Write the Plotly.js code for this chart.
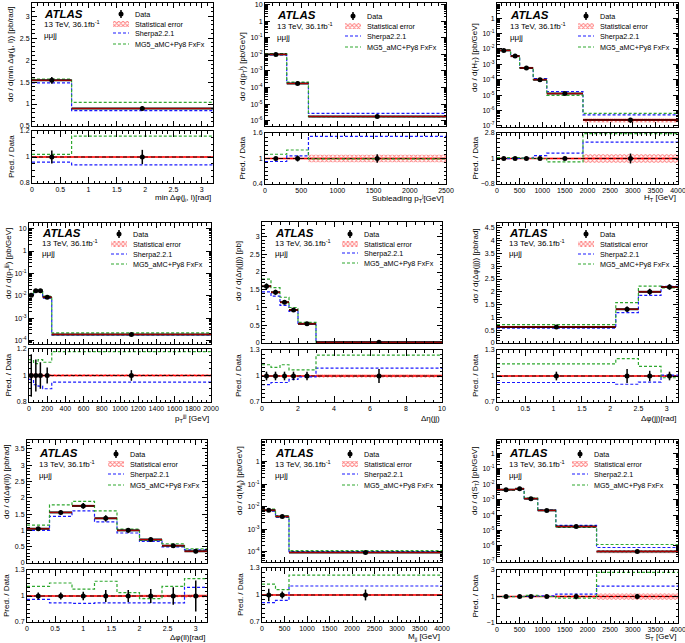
<!DOCTYPE html>
<html><head><meta charset="utf-8">
<script src="https://cdn.plot.ly/plotly-3.0.1.min.js"></script>
<style>html,body{margin:0;padding:0;background:#fff}</style>
</head><body><div id="chart" style="width:685px;height:643px"></div>
<script>
// ---------- DATA ----------
const p1_edges=[0,0.7,3.2];
const p1_data=[1.54,0.90];
const p1_err=[0.05,0.055];
const p1_stat=[0.006,0.006];
const p1_sherpa=[1.48,0.85];
const p1_mg5=[1.57,1.04];
const p1_rsherpa=[0.96,0.94];
const p1_rmg5=[1.02,1.16];

const p2_edges=[0,300,600,2500];
const p2_data=[1.0e-2,1.75e-4,1.8e-6];
const p2_err=[0.03,0.07,0.1];
const p2_stat=[0.01,0.02,0.09];
const p2_sherpa=[9.3e-3,1.85e-4,2.75e-6];
const p2_mg5=[1.1e-2,2.1e-4,1.78e-6];
const p2_rsherpa=[0.93,1.06,1.52];
const p2_rmg5=[1.1,1.2,0.99];

const p3_edges=[0,300,500,800,1100,1900,4000];
const p3_data=[8.0e-3,3.4e-3,5.8e-4,1.0e-4,1.25e-5,2.4e-7];
const p3_err=[0.02,0.02,0.03,0.04,0.06,0.35];
const p3_stat=[0.01,0.01,0.015,0.02,0.05,0.3];
const p3_sherpa=[7.9e-3,3.4e-3,5.9e-4,1.2e-4,1.72e-5,5.2e-7];
const p3_mg5=[8.5e-3,3.65e-3,6.0e-4,1.0e-4,9.5e-6,6.6e-7];
const p3_rsherpa=[0.99,1.0,1.02,1.2,1.38,2.15];
const p3_rmg5=[1.06,1.07,1.03,1.0,0.76,2.75];

const p4_edges=[0,50,100,150,250,2000];
const p4_data=[1.07e-2,1.7e-2,1.7e-2,8.7e-3,1.9e-4];
const p4_err=[0.16,0.12,0.1,0.06,0.04];
const p4_stat=[0.02,0.015,0.015,0.01,0.01];
const p4_sherpa=[1.04e-2,1.58e-2,1.56e-2,7.8e-3,1.8e-4];
const p4_mg5=[1.18e-2,1.84e-2,1.9e-2,9.6e-3,2.24e-4];
const p4_rsherpa=[0.97,0.93,0.92,0.90,0.95];
const p4_rmg5=[1.12,1.09,1.12,1.10,1.18];

const p5_edges=[0,0.5,1,1.5,2,3,10];
const p5_data=[1.6,1.43,1.15,0.93,0.54,0.02];
const p5_err=[0.05,0.05,0.05,0.05,0.05,0.08];
const p5_stat=[0.008,0.008,0.008,0.008,0.01,0.02];
const p5_sherpa=[1.44,1.32,1.06,0.89,0.535,0.022];
const p5_mg5=[1.8,1.56,1.29,1.0,0.58,0.025];
const p5_rsherpa=[0.90,0.925,0.925,0.96,0.99,1.09];
const p5_rmg5=[1.13,1.10,1.13,1.07,1.07,1.24];

const p6_edges=[0,2.1,2.5,2.9,3.2];
const p6_data=[0.63,1.32,2.0,2.19];
const p6_err=[0.05,0.08,0.06,0.05];
const p6_stat=[0.008,0.01,0.01,0.01];
const p6_sherpa=[0.58,1.19,1.86,2.21];
const p6_mg5=[0.72,1.58,2.22,2.15];
const p6_rsherpa=[0.925,0.905,0.93,1.01];
const p6_rmg5=[1.14,1.2,1.11,0.98];

const p7_edges=[0,0.4,0.8,1.2,1.6,2.0,2.4,2.8,3.2];
const p7_data=[1.05,1.55,1.75,1.37,1.0,0.72,0.53,0.36];
const p7_err=[0.04,0.04,0.05,0.07,0.07,0.08,0.1,0.18];
const p7_stat=[0.01,0.01,0.01,0.01,0.01,0.015,0.015,0.02];
const p7_sherpa=[1.0,1.43,1.6,1.26,0.92,0.66,0.49,0.4];
const p7_mg5=[1.16,1.78,1.89,1.6,1.04,0.7,0.59,0.43];
const p7_rsherpa=[0.96,0.92,0.915,0.92,0.92,0.92,0.92,1.10];
const p7_rmg5=[1.11,1.15,1.08,1.17,1.04,0.97,1.11,1.2];

const p8_edges=[0,300,600,4000];
const p8_data=[7.0e-3,3.7e-3,9.3e-5];
const p8_err=[0.07,0.04,0.06];
const p8_stat=[0.01,0.01,0.01];
const p8_sherpa=[6.4e-3,3.5e-3,1.02e-4];
const p8_mg5=[7.8e-3,3.9e-3,1.13e-4];
const p8_rsherpa=[0.915,0.94,1.1];
const p8_rmg5=[1.12,1.06,1.22];

const p9_edges=[0,400,600,900,1300,2200,4000];
const p9_data=[4.4e-3,5.0e-3,1.15e-3,2.0e-4,1.8e-5,4.4e-7];
const p9_err=[0.03,0.03,0.04,0.05,0.2,0.2];
const p9_stat=[0.01,0.01,0.01,0.02,0.08,0.25];
const p9_sherpa=[4.4e-3,5.0e-3,1.17e-3,2.1e-4,2.12e-5,7.9e-7];
const p9_mg5=[4.3e-3,4.9e-3,1.24e-3,2.0e-4,1.57e-5,1.24e-6];
const p9_rsherpa=[1.0,1.0,1.02,1.05,1.18,1.79];
const p9_rmg5=[0.98,0.98,1.08,1.0,0.87,2.82];

const yTitles=['dσ / d(min Δφ(j<sub>i</sub>, l)) [pb/rad]','dσ / d(p<sub>T</sub><sup>j</sup>) [pb/GeV]','dσ / d(H<sub>T</sub>) [pb/GeV]',
 'dσ / d(p<sub>T</sub><sup>jjj</sup>) [pb/GeV]','dσ / d(Δη(jj)) [pb]','dσ / d(Δφ(jj)) [pb/rad]',
 'dσ / d(Δφ(ll)) [pb/rad]','dσ / d(M<sub>jj</sub>) [pb/GeV]','dσ / d(S<sub>T</sub>) [pb/GeV]'];
const xTitles=['min Δφ(j<sub>i</sub>, l)[rad]','Subleading p<sub>T</sub><sup>j</sup>[GeV]','H<sub>T</sub> [GeV]',
 'p<sub>T</sub><sup>jjj</sup> [GeV]','Δη(jj)','Δφ(jj)[rad]','Δφ(ll)[rad]','M<sub>jj</sub> [GeV]','S<sub>T</sub> [GeV]'];
const legendLabels=['Data','Statistical error','Sherpa2.2.1','MG5_aMC+Py8 FxFx'];
const ratioTitle='Pred. / Data';
const atlasLines=['<b><i>ATLAS</i></b>','13 TeV, 36.1fb<sup>-1</sup>','μμjj'];

// ---------- LAYOUT CONFIG ----------
const W=685,H=643;
const FONT='Liberation Sans, Arial, Helvetica, sans-serif';
const BLUE='#1a1aff', GREEN='#2fa82f';
const cfgs=[
 {e:p1_edges,d:p1_data,de:p1_err,st:p1_stat,sh:p1_sherpa,mg:p1_mg5,rsh:p1_rsherpa,rmg:p1_rmg5,
  L:32,R:213,T:3,B:126,rT:131,rB:183,log:false,yr:[0.5,3.3],ydt:0.5,y0:0.5,ym:0.1,xr:[0,3.2],xdt:0.5,xm:0.1,rr:[0.8,1.2],rdt:0.2,rm:0.05,
  ytx:11,ytc:55,xty:198,ax:42,ay:[14,24,35],lx:133,ly:[14,24,33,44]},
 {e:p2_edges,d:p2_data,de:p2_err,st:p2_stat,sh:p2_sherpa,mg:p2_mg5,rsh:p2_rsherpa,rmg:p2_rmg5,
  L:265,R:446,T:3,B:126,rT:133,rB:184,log:true,yr:[-6.32,1.1],xr:[0,2500],xdt:500,xm:100,rr:[0.4,1.6],rdt:0.6,rm:0.1,
  ytx:242,ytc:67,xty:198,ax:275,ay:[15,26,37],lx:365,ly:[16,26,36,47]},
 {e:p3_edges,d:p3_data,de:p3_err,st:p3_stat,sh:p3_sherpa,mg:p3_mg5,rsh:p3_rsherpa,rmg:p3_rmg5,
  L:497,R:678,T:3,B:127,rT:133,rB:184,log:true,yr:[-7.07,0.98],xr:[0,4000],xdt:500,xm:100,rr:[-0.8,2.8],rdt:1.8,rm:0.3,
  ytx:475,ytc:58,xty:198,ax:508,ay:[15,26,37],lx:598,ly:[16,26,36,47]},
 {e:p4_edges,d:p4_data,de:p4_err,st:p4_stat,sh:p4_sherpa,mg:p4_mg5,rsh:p4_rsherpa,rmg:p4_rmg5,
  L:29,R:211,T:223,B:344,rT:349,rB:402,log:true,yr:[-4.15,1.25],xr:[0,2000],xdt:200,xm:50,rr:[0.8,1.2],rdt:0.2,rm:0.05,
  ytx:8,ytc:264,xty:418,ax:40,ay:[233,243,253],lx:131,ly:[234,244,254,264]},
 {e:p5_edges,d:p5_data,de:p5_err,st:p5_stat,sh:p5_sherpa,mg:p5_mg5,rsh:p5_rsherpa,rmg:p5_rmg5,
  L:262,R:442,T:222,B:343,rT:350,rB:402,log:false,yr:[0,3.41],ydt:0.5,y0:0,ym:0.1,xr:[0,10],xdt:2,xm:0.5,rr:[0.7,1.3],rdt:0.3,rm:0.05,
  ytx:238,ytc:271,xty:418,ax:273,ay:[233,243,253],lx:362,ly:[234,244,253,263]},
 {e:p6_edges,d:p6_data,de:p6_err,st:p6_stat,sh:p6_sherpa,mg:p6_mg5,rsh:p6_rsherpa,rmg:p6_rmg5,
  L:497,R:678,T:223,B:343,rT:350,rB:402,log:false,yr:[0,4.69],ydt:0.5,y0:0,ym:0.1,xr:[0,3.2],xdt:0.5,xm:0.1,rr:[0.7,1.3],rdt:0.3,rm:0.05,
  ytx:475,ytc:266,xty:418,ax:507,ay:[233,243,253],lx:598,ly:[234,244,254,264]},
 {e:p7_edges,d:p7_data,de:p7_err,st:p7_stat,sh:p7_sherpa,mg:p7_mg5,rsh:p7_rsherpa,rmg:p7_rmg5,
  L:27,R:207,T:440,B:563,rT:570,rB:622,log:false,yr:[0,3.77],ydt:0.5,y0:0,ym:0.1,xr:[0,3.2],xdt:0.5,xm:0.1,rr:[0.7,1.3],rdt:0.3,rm:0.05,
  ytx:6,ytc:482,xty:637,ax:37,ay:[453,464,475],lx:128,ly:[454,464,474,485]},
 {e:p8_edges,d:p8_data,de:p8_err,st:p8_stat,sh:p8_sherpa,mg:p8_mg5,rsh:p8_rsherpa,rmg:p8_rmg5,
  L:262,R:442,T:440,B:562,rT:568,rB:622,log:true,yr:[-4.45,0.96],xr:[0,4000],xdt:500,xm:100,rr:[0.7,1.3],rdt:0.3,rm:0.05,
  ytx:240,ytc:481,xty:637,ax:273,ay:[453,464,475],lx:362,ly:[454,464,474,485]},
 {e:p9_edges,d:p9_data,de:p9_err,st:p9_stat,sh:p9_sherpa,mg:p9_mg5,rsh:p9_rsherpa,rmg:p9_rmg5,
  L:497,R:678,T:440,B:562,rT:570,rB:623,log:true,yr:[-7.04,0.86],xr:[0,4000],xdt:500,xm:100,rr:[-1,3],rdt:2,rm:0.5,
  ytx:475,ytc:481,xty:637,ax:507,ay:[453,464,475],lx:592,ly:[454,464,474,485]}
];

// ---------- HELPERS ----------
function centers(e){const c=[];for(let i=0;i<e.length-1;i++)c.push((e[i]+e[i+1])/2);return c;}
function widths(e){const c=[];for(let i=0;i<e.length-1;i++)c.push(e[i+1]-e[i]);return c;}
function stepY(v){return v.concat([v[v.length-1]]);}
function segs(e,v){const x=[],y=[];for(let i=0;i<v.length;i++){x.push(e[i],e[i+1],null);y.push(v[i],v[i],null);}return {x,y};}
function baseAxis(){return {showline:true,linecolor:'#000',linewidth:1,mirror:'allticks',ticks:'inside',ticklen:5,tickcolor:'#000',tickwidth:1,
 showgrid:false,zeroline:false,fixedrange:true,ticklabeloverflow:'allow',tickfont:{family:FONT,size:7,color:'#000'}};}
function minor(dt){return {ticks:'inside',ticklen:2.5,tickcolor:'#000',tickwidth:1,dtick:dt,showgrid:false};}
const hatch={shape:'x',fgcolor:'#ff0000',size:3,solidity:0.5,fillmode:'overlay'};
const lineDash='3px,2px';

const traces=[];const ann=[];
const layout={width:W,height:H,margin:{l:0,r:0,t:0,b:0},paper_bgcolor:'#fff',plot_bgcolor:'rgba(0,0,0,0)',
  showlegend:false,barmode:'overlay',font:{family:FONT,color:'#000'},annotations:ann};

cfgs.forEach((c,i)=>{
  const m=2*i+1,r=2*i+2;
  const xm='x'+(m===1?'':m),ym='y'+(m===1?'':m),xr='x'+r,yr='y'+r;
  const cen=centers(c.e),wid=widths(c.e);
  // ---- main ----
  traces.push({type:'bar',x:cen,width:wid,base:c.d.map((v,k)=>v*(1-c.st[k])),y:c.d.map((v,k)=>v*2*c.st[k]),
    xaxis:xm,yaxis:ym,marker:{color:'rgba(0,0,0,0)',line:{width:0},pattern:hatch},hoverinfo:'skip'});
  traces.push({type:'scatter',mode:'lines',x:c.e,y:stepY(c.sh),line:{shape:'hv',color:BLUE,width:1.2,dash:lineDash},xaxis:xm,yaxis:ym});
  traces.push({type:'scatter',mode:'lines',x:c.e,y:stepY(c.mg),line:{shape:'hv',color:GREEN,width:1.2,dash:lineDash},xaxis:xm,yaxis:ym});
  const s=segs(c.e,c.d);
  traces.push({type:'scatter',mode:'lines',x:s.x,y:s.y,line:{color:'#000',width:2},xaxis:xm,yaxis:ym});
  traces.push({type:'scatter',mode:'lines',x:s.x,y:s.y,line:{color:'#e00000',width:0.8},xaxis:xm,yaxis:ym});
  traces.push({type:'scatter',mode:'markers',x:cen,y:c.d,marker:{color:'#000',size:5,symbol:'circle'},
    error_y:{type:'data',array:c.d.map((v,k)=>v*c.de[k]),color:'#000',thickness:1.5,width:0},xaxis:xm,yaxis:ym});
  // ---- ratio ----
  traces.push({type:'bar',x:cen,width:wid,base:c.st.map(v=>1-v),y:c.st.map(v=>2*v),
    xaxis:xr,yaxis:yr,marker:{color:'rgba(0,0,0,0)',line:{width:0},pattern:hatch},hoverinfo:'skip'});
  traces.push({type:'scatter',mode:'lines',x:[c.e[0],c.e[c.e.length-1]],y:[1,1],line:{color:'#ff0000',width:1.5},xaxis:xr,yaxis:yr});
  traces.push({type:'scatter',mode:'lines',x:[c.e[0],c.e[c.e.length-1]],y:[1,1],line:{color:'#000',width:0.8,dash:'4px,3px'},xaxis:xr,yaxis:yr});
  traces.push({type:'scatter',mode:'lines',x:c.e,y:stepY(c.rsh),line:{shape:'hv',color:BLUE,width:1.2,dash:lineDash},xaxis:xr,yaxis:yr});
  traces.push({type:'scatter',mode:'lines',x:c.e,y:stepY(c.rmg),line:{shape:'hv',color:GREEN,width:1.2,dash:lineDash},xaxis:xr,yaxis:yr});
  traces.push({type:'scatter',mode:'markers',x:cen,y:c.d.map(()=>1),marker:{color:'#000',size:5},
    error_y:{type:'data',array:c.de,color:'#000',thickness:1.5,width:0},xaxis:xr,yaxis:yr});

  // ---- axes ----
  const xd=[c.L/W,c.R/W];
  const xa=Object.assign(baseAxis(),{domain:xd,anchor:ym,range:c.xr,tick0:0,dtick:c.xdt,showticklabels:false,minor:minor(c.xm)});
  const xb=Object.assign(baseAxis(),{domain:xd,anchor:yr,range:c.xr,tick0:0,dtick:c.xdt,minor:minor(c.xm),ticklen:6});
  let ya;
  if(c.log){
    const tv=[],tt=[],mv=[];
    for(let p=Math.ceil(c.yr[0]);p<=Math.floor(c.yr[1]);p++){tv.push(Math.pow(10,p));tt.push(p===0?'1':p===1?'10':'10<sup>'+p+'</sup>');}
    for(let p=Math.floor(c.yr[0]);p<=Math.ceil(c.yr[1]);p++){for(let k=2;k<=9;k++)mv.push(k*Math.pow(10,p));}
    ya=Object.assign(baseAxis(),{type:'log',domain:[1-c.B/H,1-c.T/H],anchor:xm,range:c.yr,tickmode:'array',tickvals:tv,ticktext:tt,
      minor:{ticks:'inside',ticklen:2.5,tickcolor:'#000',tickmode:'array',tickvals:mv,showgrid:false}});
  } else {
    ya=Object.assign(baseAxis(),{domain:[1-c.B/H,1-c.T/H],anchor:xm,range:c.yr,tick0:c.y0,dtick:c.ydt,minor:minor(c.ym)});
  }
  const yb=Object.assign(baseAxis(),{domain:[1-c.rB/H,1-c.rT/H],anchor:xr,range:c.rr,tick0:c.rr[0],dtick:c.rdt,minor:minor(c.rm)});
  layout['xaxis'+(m===1?'':m)]=xa; layout['xaxis'+r]=xb;
  layout['yaxis'+(m===1?'':m)]=ya; layout['yaxis'+r]=yb;

  // ---- texts (overlay pixel coords) ----
  const A=(x,y,t,o)=>ann.push(Object.assign({xref:'x19',yref:'y19',x,y,text:t,showarrow:false,xanchor:'left',yanchor:'middle',
      font:{family:FONT,size:8,color:'#000'}},o||{}));
  A(c.ax,c.ay[0],atlasLines[0],{font:{family:FONT,size:11.5,color:'#000'}});
  A(c.ax,c.ay[1],atlasLines[1]);
  A(c.ax,c.ay[2],atlasLines[2]);
  legendLabels.forEach((t,k)=>A(c.lx,c.ly[k],t,{font:{family:FONT,size:7.2,color:'#000'}}));
  A(c.ytx,c.ytc,yTitles[i],{textangle:-90,xanchor:'center'});
  A(c.ytx,(c.rT+c.rB)/2,ratioTitle,{textangle:-90,xanchor:'center'});
  A(c.R,c.xty,xTitles[i],{xanchor:'right'});
});

// ---- legend glyphs on the overlay axis ----
const gM={x:[],y:[]},gS={x:[],base:[],y:[]},gB={x:[],y:[]},gG={x:[],y:[]};
cfgs.forEach(c=>{
  const gx=c.lx-12;
  gM.x.push(gx);gM.y.push(c.ly[0]);
  gS.x.push(gx);gS.base.push(c.ly[1]-3);gS.y.push(6);
  gB.x.push(c.lx-20,c.lx-4,null);gB.y.push(c.ly[2],c.ly[2],null);
  gG.x.push(c.lx-20,c.lx-4,null);gG.y.push(c.ly[3],c.ly[3],null);
});
traces.push({type:'bar',x:gS.x,base:gS.base,y:gS.y,width:16,xaxis:'x19',yaxis:'y19',marker:{color:'rgba(0,0,0,0)',line:{width:0},pattern:hatch}});
traces.push({type:'scatter',mode:'markers',x:gM.x,y:gM.y,marker:{color:'#000',size:5},error_y:{type:'constant',value:4,color:'#000',thickness:1.5,width:0},xaxis:'x19',yaxis:'y19'});
traces.push({type:'scatter',mode:'lines',x:gB.x,y:gB.y,line:{color:BLUE,width:1.2,dash:lineDash},xaxis:'x19',yaxis:'y19'});
traces.push({type:'scatter',mode:'lines',x:gG.x,y:gG.y,line:{color:GREEN,width:1.2,dash:lineDash},xaxis:'x19',yaxis:'y19'});
layout.xaxis19={domain:[0,1],range:[0,W],visible:false,fixedrange:true,anchor:'y19'};
layout.yaxis19={domain:[0,1],range:[H,0],visible:false,fixedrange:true,anchor:'x19'};

Plotly.newPlot('chart',traces,layout,{staticPlot:true,displayModeBar:false});
</script></body></html>
